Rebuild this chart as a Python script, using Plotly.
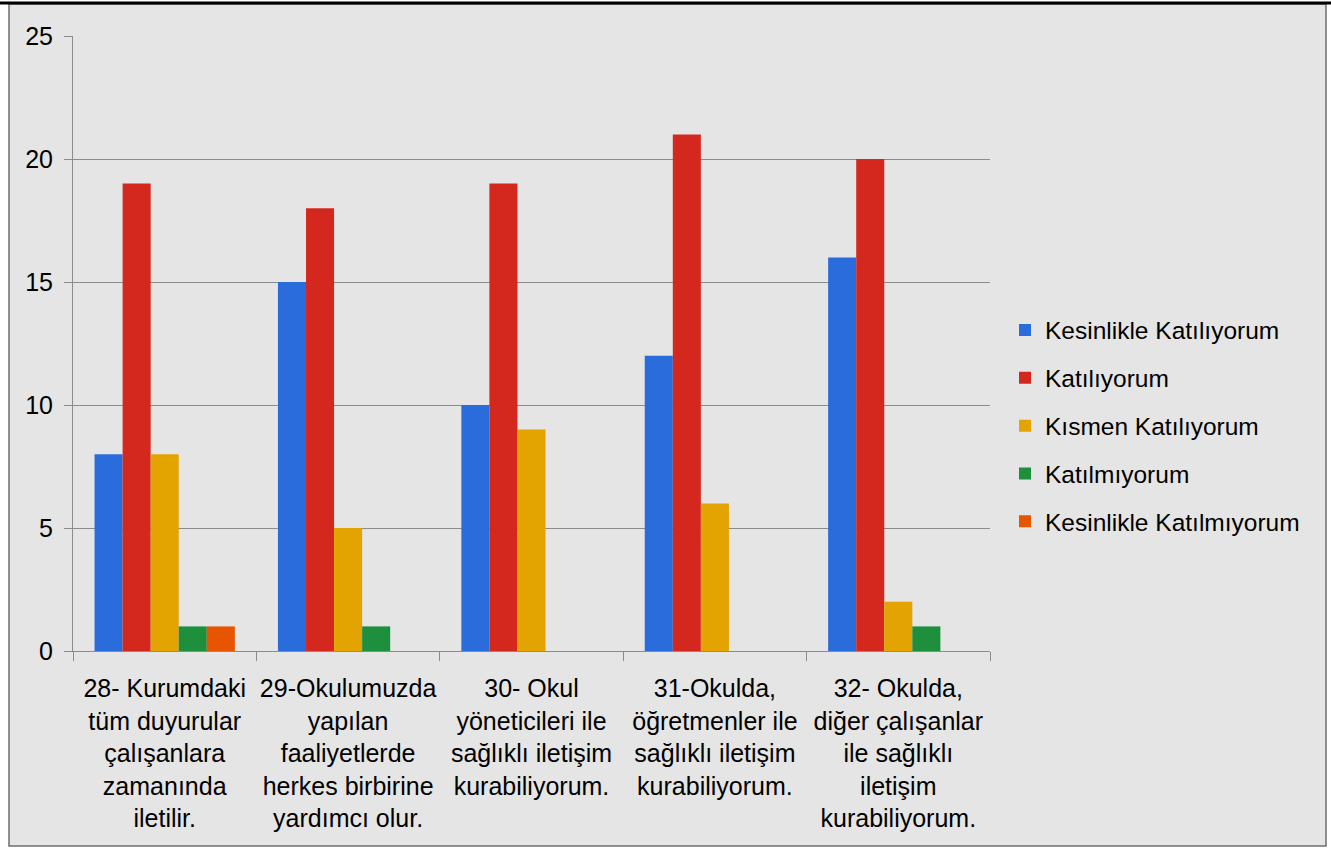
import plotly.graph_objects as go

# categories (survey items)
categories = [
    "28- Kurumdaki<br>tüm duyurular<br>çalışanlara<br>zamanında<br>iletilir.",
    "29-Okulumuzda<br>yapılan<br>faaliyetlerde<br>herkes birbirine<br>yardımcı olur.",
    "30- Okul<br>yöneticileri ile<br>sağlıklı iletişim<br>kurabiliyorum.",
    "31-Okulda,<br>öğretmenler ile<br>sağlıklı iletişim<br>kurabiliyorum.",
    "32- Okulda,<br>diğer çalışanlar<br>ile sağlıklı<br>iletişim<br>kurabiliyorum.",
]

# answer counts per series
kesinlikle_katiliyorum = [8, 15, 10, 12, 16]
katiliyorum = [19, 18, 19, 21, 20]
kismen_katiliyorum = [8, 5, 9, 6, 2]
katilmiyorum = [1, 1, 0, 0, 1]
kesinlikle_katilmiyorum = [1, 0, 0, 0, 0]

series = [
    ("Kesinlikle Katılıyorum", kesinlikle_katiliyorum, "#2a6cdc"),
    ("Katılıyorum", katiliyorum, "#d4281e"),
    ("Kısmen Katılıyorum", kismen_katiliyorum, "#e3a300"),
    ("Katılmıyorum", katilmiyorum, "#1e8f3c"),
    ("Kesinlikle Katılmıyorum", kesinlikle_katilmiyorum, "#e85500"),
]

W, H = 1331, 848
L, R, T, B = 73, 341, 36, 197
pw, ph = W - L - R, H - T - B


def px_x(p):
    return (p - L) / pw


def px_y(p):
    return (H - B - p) / ph


fig = go.Figure()
for i, (name, vals, col) in enumerate(series):
    fig.add_trace(go.Bar(x=categories, y=vals, name=name, legendgroup=str(i),
                         marker=dict(color=col, line=dict(width=0))))

font = "Liberation Sans, Arial, sans-serif"
grid = "#8c8c8c"

# background panel and frame
fig.add_shape(type="rect", xref="paper", yref="paper", layer="below",
              x0=px_x(9), x1=px_x(1326), y0=px_y(846), y1=px_y(4),
              fillcolor="#e5e5e5", line=dict(color="#6e6e6e", width=1.5))
fig.add_shape(type="line", xref="paper", yref="paper",
              x0=px_x(0), x1=px_x(W), y0=px_y(3), y1=px_y(3),
              line=dict(color="black", width=3))

fig.update_layout(
    width=W, height=H,
    margin=dict(l=L, r=R, t=T, b=B),
    paper_bgcolor="white",
    plot_bgcolor="rgba(0,0,0,0)",
    barmode="group",
    bargap=0.235,
    bargroupgap=0,
    font=dict(family=font, size=24, color="black"),
    legend=dict(x=px_x(1005), xanchor="left", y=px_y(426), yanchor="middle",
                font=dict(size=24.5), tracegroupgap=13,
                bgcolor="rgba(0,0,0,0)"),
)
fig.update_xaxes(showline=True, linecolor=grid, linewidth=1,
                 ticks="outside", tickson="boundaries", ticklen=9,
                 tickcolor=grid, tickfont=dict(size=25), showgrid=False,
                 tickangle=0, automargin=False, ticklabelstandoff=15)
fig.update_yaxes(range=[0, 25], dtick=5, showgrid=True, gridcolor=grid,
                 gridwidth=1, showline=True, linecolor=grid, ticks="outside",
                 ticklen=8, tickcolor=grid, tickfont=dict(size=25),
                 zeroline=False, automargin=False, ticklabelstandoff=6)

fig.write_html("out.html", config={"displayModeBar": False},
               post_script="document.body.style.margin='0px';")
